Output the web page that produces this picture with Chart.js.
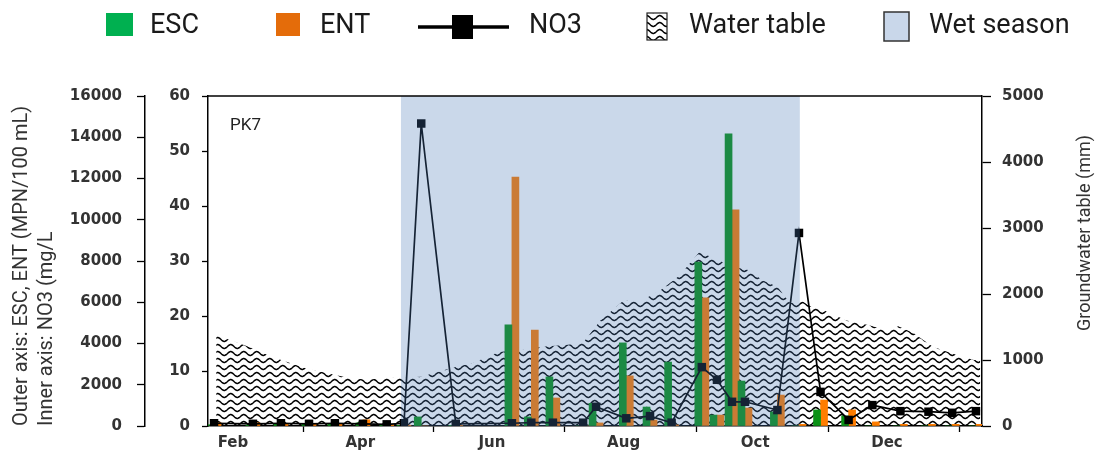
<!DOCTYPE html>
<html><head><meta charset="utf-8">
<script src="https://cdn.jsdelivr.net/npm/chart.js@4/dist/chart.umd.min.js"></script>
<style>html,body{margin:0;padding:0;background:#fff;}#wrap{width:1097px;height:452px;position:relative;}</style>
</head><body><div id="wrap"><canvas id="c" width="1097" height="452"></canvas></div>
<script>
// ---- data (day of year) ----
const sampleDays = [20, 38, 51, 64, 76, 89, 100, 108, 116, 132, 158, 167, 177, 191, 197, 211, 222, 232, 246, 253, 260, 266, 281, 291, 301, 314, 325, 338, 351, 362, 373];
const escValues  = [60, 40, 100, 120, 80, 150, 40, 30, 440, 30, 4900, 440, 2380, 0, 1100, 4030, 920, 3100, 7950, 530, 14160, 2180, 680, 0, 780, 490, 0, 0, 0, 0, 0];
const entValues  = [150, 150, 80, 100, 100, 300, 60, 40, 0, 20, 12070, 4650, 1360, 0, 150, 2430, 290, 50, 6210, 530, 10480, 870, 1500, 80, 1260, 780, 200, 80, 80, 80, 80];
const no3Values  = [0.5, 0.4, 0.5, 0.4, 0.5, 0.4, 0.3, 0.5, 55, 0.4, 0.5, 0.6, 0.6, 0.6, 3.5, 1.4, 1.8, 0.6, 10.7, 8.4, 4.4, 4.4, 2.9, 35.1, 6.2, 1.1, 3.8, 2.7, 2.6, 2.4, 2.7];
const wtDays   = [21, 36, 47, 62, 70, 82, 91, 100, 105, 116, 130, 140, 152, 162, 172, 184, 191, 199, 210, 217, 227, 235, 239, 245, 253, 261, 268, 274, 281, 287, 292, 297, 302, 313, 323, 332, 337, 344, 353, 362, 372, 375];
const wtValues = [1380, 1200, 1045, 880, 820, 730, 700, 730, 730, 745, 880, 955, 1120, 1150, 1200, 1230, 1260, 1600, 1910, 1880, 2060, 2260, 2410, 2640, 2520, 2410, 2360, 2210, 2110, 1860, 1900, 1800, 1760, 1600, 1530, 1450, 1510, 1410, 1200, 1100, 1000, 1000];
const wetSeason = [106.6, 291.4];
const monthTickDays = [32, 91, 152, 213, 274, 335];
const monthTickLabels = ['Feb', 'Apr', 'Jun', 'Aug', 'Oct', 'Dec'];
const outerTicksMax = 16000, outerStep = 2000;
const no3Max = 60, no3Step = 10;
const wtMax = 5000, wtStep = 1000;

// ---- styles ----
const tickFont = {family: 'DejaVu Sans', size: 15, weight: 'bold'};
const tickColor = '#333';
const titleFamily = 'Roboto';
const plainNumber = v => String(v);

function makeWave() {
  const c = document.createElement('canvas');
  c.width = 13; c.height = 7;
  const g = c.getContext('2d');
  g.strokeStyle = '#000';
  g.lineWidth = 1.5;
  g.beginPath();
  for (let x = -1; x <= 14; x += 0.5) {
    const y = 3.5 + 1.9 * Math.sin(2 * Math.PI * x / 13);
    if (x === -1) g.moveTo(x, y); else g.lineTo(x, y);
  }
  g.stroke();
  return c;
}
const waveTile = makeWave();
const wavePattern = document.getElementById('c').getContext('2d').createPattern(waveTile, 'repeat');

const escSeries = sampleDays.map((d, i) => ({x: d, y: escValues[i]}));
const entSeries = sampleDays.map((d, i) => ({x: d, y: entValues[i]}));
const no3Series = sampleDays.map((d, i) => ({x: d, y: no3Values[i]}));
const wtSeries = wtDays.map((d, i) => ({x: d, y: wtValues[i]}));

const wetOverlay = {
  id: 'wetOverlay',
  afterDatasetsDraw(chart) {
    const {ctx, chartArea: a, scales: {x}} = chart;
    const x1 = x.getPixelForValue(wetSeason[0]);
    const x2 = x.getPixelForValue(wetSeason[1]);
    ctx.save();
    ctx.fillStyle = 'rgba(72,121,183,0.29)';
    ctx.fillRect(x1, a.top, x2 - x1, a.bottom - a.top);
    ctx.restore();
  }
};

const legendItems = [
  {label: 'ESC', kind: 'box', color: '#00b050', ix: 106, iw: 27, tx: 150},
  {label: 'ENT', kind: 'box', color: '#e46c0a', ix: 276, iw: 24, tx: 320},
  {label: 'NO3', kind: 'line', ix: 418, iw: 91, tx: 529},
  {label: 'Water table', kind: 'hatch', ix: 647, iw: 20, tx: 689},
  {label: 'Wet season', kind: 'wet', ix: 884, iw: 25, tx: 929}
];

const decorations = {
  id: 'decorations',
  afterDraw(chart) {
    const {ctx, chartArea: a} = chart;
    ctx.save();
    ctx.strokeStyle = '#000';
    ctx.lineWidth = 1.5;
    ctx.beginPath();
    ctx.moveTo(a.left, a.top);
    ctx.lineTo(a.right, a.top);
    ctx.stroke();
    ctx.fillStyle = '#222';
    ctx.font = '17px ' + titleFamily;
    ctx.textBaseline = 'middle';
    ctx.textAlign = 'left';
    ctx.fillText('PK7', a.left + 22, a.top + 30);
    ctx.save();
    ctx.translate(1085, 233);
    ctx.rotate(-Math.PI / 2);
    ctx.textAlign = 'center';
    ctx.font = '18px ' + titleFamily;
    ctx.fillStyle = '#333';
    ctx.fillText('Groundwater table (mm)', 0, 0);
    ctx.restore();
    const cy = 25;
    ctx.font = '27px ' + titleFamily;
    ctx.textBaseline = 'middle';
    legendItems.forEach(it => {
      if (it.kind === 'box') {
        ctx.fillStyle = it.color;
        ctx.fillRect(it.ix, cy - 12, it.iw, 23);
      } else if (it.kind === 'line') {
        ctx.strokeStyle = '#000';
        ctx.lineWidth = 3.5;
        ctx.beginPath();
        ctx.moveTo(it.ix, cy + 2); ctx.lineTo(it.ix + it.iw, cy + 2);
        ctx.stroke();
        ctx.fillStyle = '#000';
        ctx.fillRect(it.ix + 34, cy - 10, 21, 24);
      } else if (it.kind === 'hatch') {
        ctx.fillStyle = '#fff';
        ctx.fillRect(it.ix, cy - 12, it.iw, 27);
        ctx.save();
        ctx.beginPath(); ctx.rect(it.ix, cy - 12, it.iw, 27); ctx.clip();
        ctx.fillStyle = wavePattern;
        ctx.fillRect(it.ix, cy - 12, it.iw, 27);
        ctx.restore();
        ctx.strokeStyle = '#222'; ctx.lineWidth = 1.2;
        ctx.strokeRect(it.ix, cy - 12, it.iw, 27);
      } else {
        ctx.fillStyle = '#c9d7ea';
        ctx.fillRect(it.ix, cy - 13, it.iw, 29);
        ctx.strokeStyle = '#333'; ctx.lineWidth = 1.5;
        ctx.strokeRect(it.ix, cy - 13, it.iw, 29);
      }
      ctx.fillStyle = '#1a1a1a';
      ctx.fillText(it.label, it.tx, cy + 1);
    });
    ctx.restore();
  }
};

new Chart(document.getElementById('c'), {
  type: 'line',
  data: {
    datasets: [
      {type: 'line', label: 'NO3', data: no3Series, yAxisID: 'yNO3', order: 0,
       borderColor: '#000', borderWidth: 1.7, pointStyle: 'rect', pointRadius: 6,
       pointBackgroundColor: '#000', pointBorderColor: '#000', pointBorderWidth: 0, tension: 0, fill: false},
      {type: 'bar', label: 'ESC', data: escSeries, yAxisID: 'yOuter', order: 1,
       backgroundColor: '#0a9116', barThickness: 7, borderWidth: 0},
      {type: 'bar', label: 'ENT', data: entSeries, yAxisID: 'yOuter', order: 2,
       backgroundColor: '#ff7d00', barThickness: 7, borderWidth: 0},
      {type: 'line', label: 'Water table', data: wtSeries, yAxisID: 'yWT', order: 3,
       borderColor: 'rgba(0,0,0,0)', borderWidth: 0, pointRadius: 0, tension: 0,
       fill: 'origin', backgroundColor: wavePattern}
    ]
  },
  options: {
    responsive: false,
    devicePixelRatio: 1,
    animation: false,
    events: [],
    layout: {padding: {top: 96, left: 0, right: 0, bottom: 0}},
    plugins: {legend: {display: false}, tooltip: {enabled: false}},
    scales: {
      x: {
        type: 'linear', position: 'bottom', min: 17.2, max: 375.8, offset: false,
        afterBuildTicks: s => { s.ticks = monthTickDays.map(v => ({value: v})); },
        afterFit: s => { s.height = 26; },
        ticks: {autoSkip: false, maxRotation: 0, minRotation: 0, labelOffset: -7, padding: 2,
                font: tickFont, color: tickColor,
                callback: (v, i) => monthTickLabels[i]},
        grid: {drawOnChartArea: false, tickLength: 6, tickColor: '#000', tickWidth: 1.3},
        border: {color: '#000', width: 1.5}
      },
      yOuter: {
        type: 'linear', position: 'left', weight: 10, min: 0, max: outerTicksMax,
        afterFit: s => { s.width = 145; },
        ticks: {stepSize: outerStep, padding: 15, font: tickFont, color: tickColor, callback: plainNumber},
        grid: {drawOnChartArea: false, tickLength: 8, tickColor: '#000', tickWidth: 1.3},
        border: {color: '#000', width: 1.5},
        title: {display: true, align: 'start',
                text: ['Outer axis: ESC, ENT (MPN/100 mL)', 'Inner axis: NO3 (mg/L'],
                font: {family: titleFamily, size: 20, lineHeight: '25px'}, color: '#333',
                padding: {top: 9.5, bottom: 0}}
      },
      yNO3: {
        type: 'linear', position: 'left', weight: 0, min: 0, max: no3Max,
        afterFit: s => { s.width = 63; },
        ticks: {stepSize: no3Step, padding: 12, font: tickFont, color: tickColor, callback: plainNumber},
        grid: {drawOnChartArea: false, tickLength: 6, tickColor: '#000', tickWidth: 1.3},
        border: {color: '#000', width: 1.5}
      },
      yWT: {
        type: 'linear', position: 'right', min: 0, max: wtMax,
        afterFit: s => { s.width = 115; },
        ticks: {stepSize: wtStep, padding: 11, font: tickFont, color: tickColor, callback: plainNumber},
        grid: {drawOnChartArea: false, tickLength: 9, tickColor: '#000', tickWidth: 1.3},
        border: {color: '#000', width: 1.5}
      }
    }
  },
  plugins: [wetOverlay, decorations]
});
</script>
</body></html>
